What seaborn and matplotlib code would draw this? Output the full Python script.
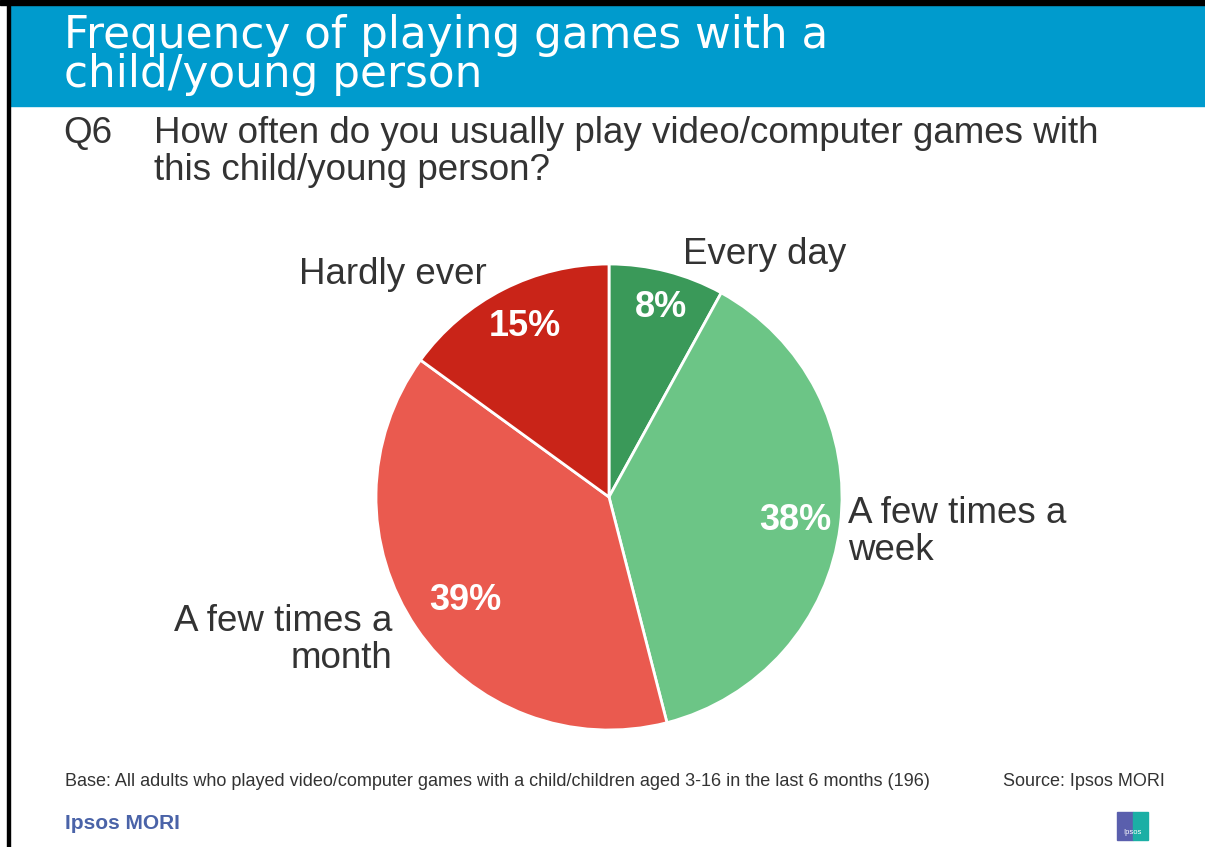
import matplotlib
matplotlib.use("Agg")
import matplotlib.pyplot as plt
import seaborn as sns
from matplotlib.patches import Rectangle

# -----------------------------
# Data
# -----------------------------
categories = ["Every day", "A few times a week", "A few times a month", "Hardly ever"]
shares = [8, 38, 39, 15]
colours = ["#3A9959", "#6CC586", "#EA5A4F", "#C92418"]

title = "Frequency of playing games with a\nchild/young person"
question = "How often do you usually play video/computer games with\nthis child/young person?"
base_note = ("Base: All adults who played video/computer games with a child/children "
             "aged 3-16 in the last 6 months (196)")
source_note = "Source: Ipsos MORI"

sns.set_theme(style="white")
plt.rcParams['font.family'] = ['Liberation Sans', 'DejaVu Sans']

W, H = 1205, 847
fig = plt.figure(figsize=(W / 100, H / 100), dpi=100)

def fx(px):
    return px / W

def fy(py):
    return 1 - py / H

# header band and frame lines
fig.patches.append(Rectangle((fx(10), fy(106)), fx(1195), 101 / H,
                             transform=fig.transFigure, color="#009BCD", zorder=0))
fig.patches.append(Rectangle((0, fy(5)), 1, 5 / H, transform=fig.transFigure,
                             color="black", zorder=1))
fig.patches.append(Rectangle((fx(7), 0), 3 / W, 1, transform=fig.transFigure,
                             color="black", zorder=1))

fig.text(fx(64), fy(55), title, color="white", fontsize=31.5, va="center",
         ha="left", linespacing=0.9, family=["DejaVu Sans"])
fig.text(fx(63), fy(134), "Q6", color="#333333", fontsize=26.5, va="center")
fig.text(fx(154), fy(152), question, color="#333333", fontsize=26.5, va="center",
         linespacing=1.04)

# -----------------------------
# Pie
# -----------------------------
cx, cy, r = 609, 497, 233
ax = fig.add_axes([fx(cx - r), fy(cy + r), 2 * r / W, 2 * r / H])
wedges, _ = ax.pie(shares, colors=colours, startangle=90, counterclock=False,
                   radius=1, wedgeprops=dict(edgecolor="white", linewidth=2))
ax.set_xlim(-1, 1)
ax.set_ylim(-1, 1)
ax.set_aspect("equal")
ax.axis("off")

# percentage labels
pct_pos = [(661, 307), (795, 521), (465, 601), (525, 326)]
for val, (px, py) in zip(shares, pct_pos):
    fig.text(fx(px), fy(py), f"{val}%", color="white", fontsize=26,
             fontweight="bold", ha="center", va="center")

# category labels
lab_col = "#333333"
fig.text(fx(683), fy(254), "Every day", color=lab_col, fontsize=26.5,
         ha="left", va="center")
fig.text(fx(848), fy(532), "A few times a\nweek", color=lab_col, fontsize=26.5,
         ha="left", va="center", linespacing=1.05)
fig.text(fx(392), fy(640), "A few times a\nmonth", color=lab_col, fontsize=26.5,
         ha="right", va="center", linespacing=1.05, multialignment="right")
fig.text(fx(487), fy(274), "Hardly ever", color=lab_col, fontsize=26.5,
         ha="right", va="center")

# -----------------------------
# Footer
# -----------------------------
fig.text(fx(65), fy(781), base_note, color="#333333", fontsize=13,
         ha="left", va="center")
fig.text(fx(1165), fy(781), source_note, color="#333333", fontsize=13,
         ha="right", va="center")
fig.text(fx(65), fy(823), "Ipsos MORI", color="#4A63A8", fontsize=15,
         fontweight="bold", ha="left", va="center")
fig.patches.append(Rectangle((fx(1117), fy(840)), 16 / W, 28 / H,
                             transform=fig.transFigure, color="#5A5FAD"))
fig.patches.append(Rectangle((fx(1133), fy(840)), 15 / W, 28 / H,
                             transform=fig.transFigure, color="#1BAFA5"))
fig.text(fx(1132), fy(832), "Ipsos", color="white", fontsize=5.5,
         ha="center", va="center")

fig.savefig("out.png", dpi=100)
